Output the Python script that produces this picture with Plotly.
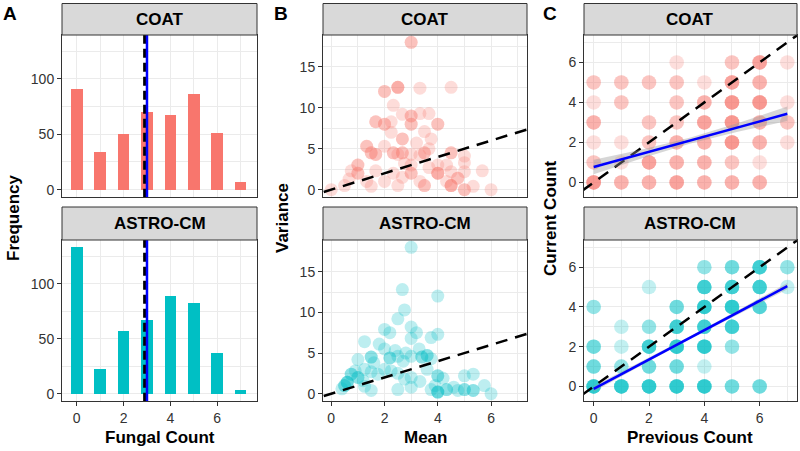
import plotly.graph_objects as go

# ---------------- DATA ----------------
counts = [0, 1, 2, 3, 4, 5, 6, 7]
freq_coat = [91, 34, 50, 70, 67, 86, 51, 7]
freq_astro = [133, 22, 57, 67, 89, 82, 37, 3]
mean_line = 2.9
median_line = 3.0

# Panel B: (mean, variance, multiplicity)
b_coat_mean = [3.0, 2.0, 2.5, 3.33, 4.5, 2.33, 2.67, 3.0, 3.33, 3.67, 1.67, 2.0, 2.25, 3.0, 4.0, 2.25, 3.5, 2.67, 3.75,
               1.33, 1.5, 1.67, 2.33, 2.67, 2.5, 3.0, 3.5, 3.33, 4.5, 5.0, 1.0, 1.0, 0.75, 0.67, 0.5, 0.0, 1.5, 1.67,
               2.0, 2.33, 2.5, 3.0, 3.0, 3.33, 3.5, 3.67, 4.0, 4.0, 4.33, 4.33, 4.5, 4.5, 4.75, 5.0, 5.0, 5.0, 5.33,
               5.67, 6.0, 2.0, 3.67, 2.75, 1.33, 2.67, 3.2]
b_coat_var = [18.0, 12.0, 12.5, 12.4, 12.5, 10.3, 9.2, 9.0, 9.3, 9.3, 8.3, 8.0, 8.3, 8.0, 8.0, 7.0, 7.1, 6.2, 6.2,
              5.3, 4.5, 4.3, 4.5, 4.5, 4.3, 4.3, 4.5, 4.2, 4.5, 4.1, 3.0, 2.0, 2.3, 1.3, 0.5, 0.0, 0.4, 2.3,
              1.0, 2.0, 0.5, 3.0, 2.0, 1.0, 0.5, 2.7, 3.0, 2.0, 1.0, 3.0, 2.2, 0.5, 1.4, 3.3, 2.2, 0.0, 0.4,
              2.3, 0.0, 5.3, 5.0, 3.2, 1.0, 1.5, 5.7]
b_coat_n = [2, 2, 3, 1, 1, 1, 1, 2, 1, 1, 2, 2, 1, 2, 2, 1, 1, 2, 1,
            2, 2, 2, 2, 2, 1, 1, 2, 1, 2, 1, 2, 2, 1, 1, 1, 1, 1, 1,
            1, 1, 1, 1, 2, 1, 2, 1, 1, 3, 1, 1, 1, 3, 2, 1, 1, 2, 1,
            1, 1, 1, 1, 1, 1, 1, 1]

b_astro_mean = [3.0, 2.67, 4.0, 2.75, 2.5, 2.0, 2.2, 3.0, 3.2, 3.0, 3.75, 4.0, 1.25, 1.8, 2.0, 2.4, 2.8, 3.3, 3.6,
                3.4, 1.0, 1.5, 1.6, 2.2, 2.5, 2.7, 3.0, 3.75, 0.75, 0.6, 0.5, 0.9, 1.0, 1.25, 1.2, 1.5, 1.75,
                2.0, 2.25, 2.5, 1.5, 2.5, 2.75, 3.0, 3.0, 3.33, 3.6, 3.75, 4.0, 4.0, 4.2, 4.33, 4.6, 4.75, 5.0,
                5.0, 5.33, 5.33, 5.75, 6.0, 3.9, 0.4, 1.25]
b_astro_var = [18.0, 12.8, 12.0, 10.3, 9.2, 7.9, 7.5, 8.2, 7.5, 6.8, 6.9, 7.3, 6.4, 6.1, 5.5, 5.3, 5.0, 5.5, 4.7,
               4.5, 4.2, 4.5, 3.8, 4.4, 4.6, 4.0, 4.6, 4.3, 2.4, 1.4, 1.0, 2.8, 2.0, 3.0, 1.6, 2.7, 2.4,
               3.0, 2.8, 2.5, 0.4, 0.5, 1.8, 2.0, 0.8, 1.5, 3.0, 0.5, 2.2, 0.2, 1.9, 0.5, 0.8, 0.4, 2.2,
               0.5, 2.4, 0.4, 1.0, 0.0, 1.0, 0.6, 0.9]
b_astro_n = [1, 1, 1, 1, 1, 1, 1, 1, 1, 1, 1, 1, 1, 1, 1, 1, 1, 1, 2,
             2, 1, 2, 1, 2, 1, 1, 1, 1, 2, 3, 2, 1, 2, 1, 1, 1, 1,
             1, 1, 1, 1, 1, 1, 1, 1, 1, 1, 1, 2, 3, 1, 2, 1, 1, 1,
             2, 1, 2, 1, 1, 1, 1, 1]

# Panel C: (previous, current, number of observations)
c_coat_prev = [3, 5, 6, 7,
               0, 1, 2, 3, 4, 5, 6,
               0, 1, 3, 4, 5, 6, 7,
               0, 2, 3, 4, 5, 6, 7,
               0, 1, 2, 3, 4, 5, 6, 7,
               0, 1, 2, 3, 4, 5, 6,
               0, 1, 2, 3, 4, 5, 6]
c_coat_curr = [6, 6, 6, 6,
               5, 5, 5, 5, 5, 5, 5,
               4, 4, 4, 4, 4, 4, 4,
               3, 3, 3, 3, 3, 3, 3,
               2, 2, 2, 2, 2, 2, 2, 2,
               1, 1, 1, 1, 1, 1, 1,
               0, 0, 0, 0, 0, 0, 0]
c_coat_n = [1, 2, 4, 1,
            2, 2, 2, 2, 1, 4, 3,
            1, 2, 2, 3, 5, 5, 1,
            3, 2, 2, 4, 5, 3, 2,
            1, 1, 2, 3, 3, 5, 3, 1,
            2, 1, 4, 3, 3, 2, 1,
            5, 3, 3, 4, 3, 3, 3]

c_astro_prev = [4, 5, 6, 7,
                2, 4, 5, 6, 7,
                0, 3, 4, 5, 6,
                1, 2, 3, 4, 5,
                0, 1, 2, 3, 4, 5,
                0, 1, 2, 3, 4,
                0, 1, 2, 3, 4, 5, 6]
c_astro_curr = [6, 6, 6, 6,
                5, 5, 5, 5, 5,
                4, 4, 4, 4, 4,
                3, 3, 3, 3, 3,
                2, 2, 2, 2, 2, 2,
                1, 1, 1, 1, 1,
                0, 0, 0, 0, 0, 0, 0]
c_astro_n = [2, 3, 5, 2,
             1, 5, 5, 5, 1,
             2, 3, 6, 6, 4,
             1, 2, 5, 5, 5,
             3, 1, 5, 6, 6, 2,
             3, 2, 3, 3, 1,
             6, 6, 6, 6, 6, 3, 3]

# linear fits and confidence band
fit_x = [0, 1.75, 3.5, 5.25, 7]
fit_coat = [0.77, 1.43, 2.10, 2.76, 3.43]
band_coat = [0.36, 0.22, 0.15, 0.22, 0.36]
fit_astro = [-0.12, 1.17, 2.47, 3.76, 5.05]
band_astro = [0.14, 0.09, 0.07, 0.10, 0.16]

RED = "#F8766D"
CYAN = "#00BFC4"
FONT = "Liberation Sans, Arial, sans-serif"

# ---------------- FIGURE ----------------
fig = go.Figure()


def expand(xs, ys, ns):
    ox, oy = [], []
    for x, y, n in zip(xs, ys, ns):
        ox += [x] * n
        oy += [y] * n
    return ox, oy


# Panel A
for i, (freq, col) in enumerate([(freq_coat, RED), (freq_astro, CYAN)]):
    xa = "x" if i == 0 else "x4"
    ya = "y" if i == 0 else "y4"
    fig.add_trace(go.Bar(x=counts, y=freq, width=0.5, marker=dict(color=col, line=dict(width=0)),
                         xaxis=xa, yaxis=ya, showlegend=False))
    fig.add_trace(go.Scatter(x=[mean_line, mean_line], y=[-20, 200], mode="lines",
                             line=dict(color="black", width=3, dash="9px,5px"),
                             xaxis=xa, yaxis=ya, showlegend=False))
    fig.add_trace(go.Scatter(x=[median_line, median_line], y=[-20, 200], mode="lines",
                             line=dict(color="#0000FF", width=2.5),
                             xaxis=xa, yaxis=ya, showlegend=False))

# Panel B
for i, (m, v, n, col) in enumerate([(b_coat_mean, b_coat_var, b_coat_n, RED),
                                    (b_astro_mean, b_astro_var, b_astro_n, CYAN)]):
    xa = "x2" if i == 0 else "x5"
    ya = "y2" if i == 0 else "y5"
    px_, py_ = expand(m, v, n)
    fig.add_trace(go.Scatter(x=px_, y=py_, mode="markers",
                             marker=dict(color=col, size=13, opacity=0.26, line=dict(width=0)),
                             xaxis=xa, yaxis=ya, showlegend=False))
    fig.add_trace(go.Scatter(x=[-1, 9], y=[-1, 9], mode="lines",
                             line=dict(color="black", width=2.5, dash="12px,8px"),
                             xaxis=xa, yaxis=ya, showlegend=False))

# Panel C
for i, (p, c, n, col, fit, band) in enumerate([
        (c_coat_prev, c_coat_curr, c_coat_n, RED, fit_coat, band_coat),
        (c_astro_prev, c_astro_curr, c_astro_n, CYAN, fit_astro, band_astro)]):
    xa = "x3" if i == 0 else "x6"
    ya = "y3" if i == 0 else "y6"
    px_, py_ = expand(p, c, n)
    fig.add_trace(go.Scatter(x=px_, y=py_, mode="markers",
                             marker=dict(color=col, size=14.5, opacity=0.24, line=dict(width=0)),
                             xaxis=xa, yaxis=ya, showlegend=False))
    fig.add_trace(go.Scatter(x=[-1, 9], y=[-1, 9], mode="lines",
                             line=dict(color="black", width=2.5, dash="12px,8px"),
                             xaxis=xa, yaxis=ya, showlegend=False))
    upper = [f + b for f, b in zip(fit, band)]
    lower = [f - b for f, b in zip(fit, band)]
    fig.add_trace(go.Scatter(x=fit_x + fit_x[::-1], y=upper + lower[::-1], mode="lines",
                             fill="toself", fillcolor="rgba(153,153,153,0.4)", line=dict(width=0),
                             xaxis=xa, yaxis=ya, showlegend=False))
    fig.add_trace(go.Scatter(x=fit_x, y=fit, mode="lines", line=dict(color="#0000FF", width=2.5),
                             xaxis=xa, yaxis=ya, showlegend=False))

# ---------------- LAYOUT ----------------
W, H = 800, 451
xdom = {"A": [62, 257], "B": [323, 527], "C": [584, 797]}
ydom = {"top": [35, 197], "bot": [240, 401]}
strips = {"top": [3.5, 35], "bot": [207, 240]}


def px2x(p):
    return p / W


def py2y(p):
    return 1 - p / H


xr = {"A": [-0.63, 7.7], "B": [-0.31, 7.35], "C": [-0.35, 7.35]}
yr = {"A": [-6.65, 139.65], "B": [-0.9, 18.9], "C": [-0.73, 7.37]}
ytick = {"A": (50, 25), "B": (5, 2.5), "C": (2, 1)}

grid = "#EBEBEB"
border = "#333333"
axis_common = dict(showline=True, linecolor=border, linewidth=1, mirror=True, zeroline=False,
                   showgrid=True, gridcolor=grid, gridwidth=1,
                   tickfont=dict(family=FONT, size=14, color="#333333"),
                   ticklen=4, tickcolor=border, tickwidth=1)

idx = 1
layout = {}
for row in ["top", "bot"]:
    for pan in ["A", "B", "C"]:
        sx = "" if idx == 1 else str(idx)
        xd = [px2x(xdom[pan][0]), px2x(xdom[pan][1])]
        yd = [py2y(ydom[row][1]), py2y(ydom[row][0])]
        layout["xaxis" + sx] = dict(axis_common, domain=xd, range=xr[pan], anchor="y" + sx,
                                    tickmode="linear", tick0=0, dtick=2,
                                    minor=dict(showgrid=True, gridcolor=grid, gridwidth=0.6, dtick=1, tick0=0),
                                    ticks="outside" if row == "bot" else "",
                                    showticklabels=(row == "bot"))
        dt, mdt = ytick[pan]
        layout["yaxis" + sx] = dict(axis_common, domain=yd, range=yr[pan], anchor="x" + sx,
                                    tickmode="linear", tick0=0, dtick=dt,
                                    minor=dict(showgrid=True, gridcolor=grid, gridwidth=0.6, dtick=mdt, tick0=0),
                                    ticks="outside")
        idx += 1

fig.update_layout(**layout)

shapes = []
annotations = []
for row, label in [("top", "COAT"), ("bot", "ASTRO-CM")]:
    for pan in ["A", "B", "C"]:
        x0, x1 = px2x(xdom[pan][0]), px2x(xdom[pan][1])
        y0, y1 = py2y(strips[row][1]), py2y(strips[row][0])
        shapes.append(dict(type="rect", xref="paper", yref="paper", x0=x0, x1=x1, y0=y0, y1=y1,
                           fillcolor="#D9D9D9", line=dict(color=border, width=1), layer="above"))
        annotations.append(dict(x=(x0 + x1) / 2, y=(y0 + y1) / 2, xref="paper", yref="paper",
                                text="<b>%s</b>" % label, showarrow=False,
                                font=dict(family=FONT, size=17, color="black"),
                                xanchor="center", yanchor="middle"))

for lab, xp in [("A", 10), ("B", 281), ("C", 550)]:
    annotations.append(dict(x=px2x(xp), y=py2y(14), xref="paper", yref="paper", text="<b>%s</b>" % lab,
                            showarrow=False, font=dict(family=FONT, size=19, color="black"),
                            xanchor="center", yanchor="middle"))

for txt, xp in [("Fungal Count", 159.5), ("Mean", 425), ("Previous Count", 690)]:
    annotations.append(dict(x=px2x(xp), y=py2y(437), xref="paper", yref="paper", text="<b>%s</b>" % txt,
                            showarrow=False, font=dict(family=FONT, size=17, color="black"),
                            xanchor="center", yanchor="middle"))

for txt, xp in [("Frequency", 13), ("Variance", 282), ("Current Count", 550)]:
    annotations.append(dict(x=px2x(xp), y=py2y(218), xref="paper", yref="paper", text="<b>%s</b>" % txt,
                            showarrow=False, textangle=-90, font=dict(family=FONT, size=17, color="black"),
                            xanchor="center", yanchor="middle"))

fig.update_layout(width=W, height=H, margin=dict(l=0, r=0, t=0, b=0),
                  paper_bgcolor="white", plot_bgcolor="white",
                  shapes=shapes, annotations=annotations, bargap=0, showlegend=False,
                  font=dict(family=FONT))

fig.write_html("out.html", config={"displayModeBar": False},
               post_script="document.body.style.margin='0px';document.body.style.overflow='hidden';")
